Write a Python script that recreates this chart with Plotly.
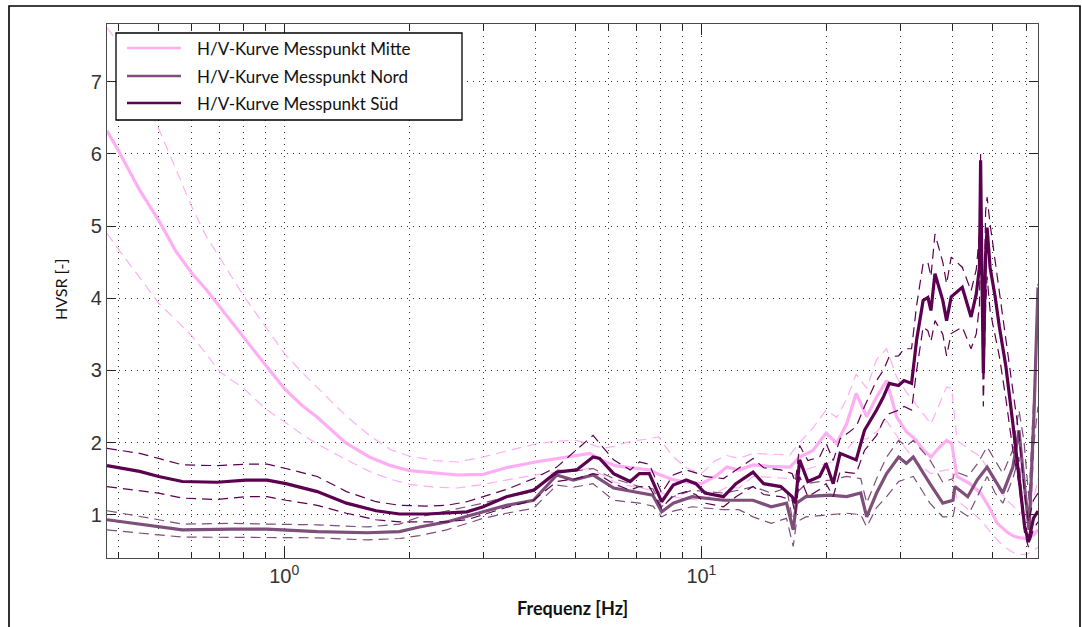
import numpy as np
import plotly.graph_objects as go

# ---- H/V spectral ratio curves (mean and +/- one standard deviation) ----

freq_mitte = [0.376, 0.4, 0.45, 0.5, 0.55, 0.6, 0.65, 0.7, 0.8, 0.9,
              1.0, 1.1, 1.2, 1.4, 1.6, 1.8, 2.0, 2.3, 2.6, 3.0,
              3.4, 4.0, 4.5, 5.0, 5.4, 5.8, 6.2, 6.6, 7.0, 7.5,
              7.9, 8.5, 9.2, 10.0, 10.8, 11.5, 12.3, 13.3, 14.5, 16.3,
              17.2, 18.5, 19.9, 21.1, 22.3, 23.5, 24.9, 26.3, 27.8, 29.4,
              31.0, 32.5, 34.0, 35.5, 37.0, 38.7, 39.8, 41.0, 44.0, 46.7,
              49.0, 51.2, 54.0, 56.1, 58.0, 60.2, 62.5, 64.1]
hv_mitte = [6.32, 6.05, 5.50, 5.08, 4.65, 4.35, 4.12, 3.88, 3.45, 3.08,
            2.75, 2.52, 2.35, 2.00, 1.80, 1.68, 1.61, 1.58, 1.55, 1.56,
            1.65, 1.73, 1.78, 1.82, 1.85, 1.75, 1.68, 1.66, 1.64, 1.62,
            1.56, 1.49, 1.45, 1.43, 1.53, 1.66, 1.62, 1.69, 1.67, 1.66,
            1.80, 1.89, 2.13, 1.99, 2.26, 2.68, 2.36, 2.63, 2.86, 2.35,
            2.15, 2.05, 1.90, 1.80, 1.92, 2.03, 1.99, 1.53, 1.43, 1.30,
            1.10, 0.88, 0.76, 0.70, 0.68, 0.67, 0.72, 0.79]
hv_mitte_hi = [7.75, 7.54, 6.90, 6.35, 5.79, 5.27, 4.86, 4.57, 4.03, 3.61,
               3.24, 2.98, 2.76, 2.38, 2.10, 1.90, 1.81, 1.75, 1.73, 1.80,
               1.88, 1.98, 2.02, 2.03, 1.98, 1.92, 1.95, 2.00, 2.03, 2.05,
               2.08, 1.82, 1.65, 1.57, 1.75, 1.82, 1.78, 1.85, 1.84, 1.83,
               2.00, 2.20, 2.45, 2.35, 2.60, 2.95, 2.75, 3.15, 3.30, 2.90,
               2.70, 2.55, 2.40, 2.26, 2.50, 2.77, 2.75, 2.03, 1.90, 1.80,
               1.60, 1.39, 1.20, 1.11, 1.03, 0.97, 1.20, 1.50]
hv_mitte_lo = [4.90, 4.68, 4.29, 3.93, 3.70, 3.48, 3.23, 2.98, 2.75, 2.47,
               2.29, 2.12, 1.98, 1.77, 1.60, 1.49, 1.42, 1.38, 1.37, 1.42,
               1.48, 1.55, 1.59, 1.62, 1.64, 1.55, 1.45, 1.41, 1.38, 1.35,
               1.32, 1.25, 1.22, 1.20, 1.30, 1.38, 1.37, 1.53, 1.52, 1.50,
               1.60, 1.66, 1.71, 1.75, 1.90, 2.05, 2.05, 2.15, 2.30, 2.10,
               1.90, 1.76, 1.65, 1.57, 1.60, 1.62, 1.62, 1.20, 1.05, 0.93,
               0.78, 0.65, 0.53, 0.47, 0.45, 0.45, 0.50, 0.55]

freq_nord = [0.376, 0.45, 0.5, 0.57, 0.75, 0.91, 1.2, 1.58, 1.89, 2.11,
             2.45, 3.0, 3.41, 3.96, 4.5, 4.93, 5.5, 6.16, 7.1, 7.65,
             8.03, 8.56, 9.5, 11.3, 12.3, 13.3, 14.7, 16.0, 16.6, 16.9,
             17.8, 20.3, 22.3, 24.1, 24.9, 26.3, 27.8, 29.7, 31.0, 32.2,
             35.3, 37.9, 40.1, 40.5, 43.5, 45.8, 48.4, 50.6, 52.8, 55.8,
             57.7, 59.3, 61.0, 62.7, 64.1]
hv_nord = [0.93, 0.87, 0.83, 0.79, 0.80, 0.80, 0.765, 0.75, 0.765, 0.83,
           0.90, 1.04, 1.13, 1.20, 1.55, 1.48, 1.55, 1.37, 1.30, 1.27,
           1.04, 1.16, 1.25, 1.20, 1.20, 1.20, 1.11, 1.16, 0.79, 1.16,
           1.25, 1.27, 1.25, 1.30, 0.97, 1.30, 1.57, 1.80, 1.71, 1.80,
           1.43, 1.16, 1.20, 1.39, 1.25, 1.48, 1.66, 1.48, 1.30, 1.66,
           2.17, 1.48, 0.79, 2.40, 4.15]
hv_nord_hi = [1.055, 0.97, 0.93, 0.87, 0.88, 0.87, 0.86, 0.83, 0.87, 0.97,
              1.05, 1.16, 1.25, 1.32, 1.62, 1.60, 1.64, 1.50, 1.39, 1.36,
              1.11, 1.25, 1.34, 1.30, 1.34, 1.39, 1.30, 1.37, 0.88, 1.30,
              1.43, 1.48, 1.53, 1.50, 1.16, 1.50, 1.80, 2.03, 1.95, 2.03,
              1.76, 1.45, 1.50, 1.60, 1.53, 1.70, 1.94, 1.75, 1.57, 1.90,
              2.45, 2.03, 1.20, 2.70, 4.20]
hv_nord_lo = [0.79, 0.74, 0.72, 0.69, 0.69, 0.69, 0.68, 0.65, 0.67, 0.71,
              0.79, 0.95, 1.02, 1.09, 1.41, 1.38, 1.43, 1.20, 1.16, 1.12,
              0.97, 1.05, 1.11, 1.07, 1.07, 0.97, 0.88, 0.95, 0.56, 0.90,
              0.97, 1.00, 1.02, 1.00, 0.83, 1.10, 1.25, 1.46, 1.50, 1.53,
              1.16, 0.97, 0.97, 1.10, 0.98, 1.25, 1.53, 1.30, 1.16, 1.50,
              1.80, 0.90, 0.60, 2.00, 2.50]

freq_sued = [0.376, 0.45, 0.5, 0.57, 0.69, 0.81, 0.91, 1.01, 1.2, 1.41,
             1.66, 1.89, 2.2, 2.45, 2.74, 3.0, 3.41, 3.96, 4.5, 5.02,
             5.5, 5.7, 6.16, 6.75, 7.1, 7.5, 8.03, 8.56, 9.2, 9.7,
             10.2, 11.3, 12.1, 13.3, 14.1, 15.5, 16.5, 16.8, 17.2, 18.0,
             19.2, 19.9, 20.7, 21.5, 23.5, 24.6, 26.3, 27.3, 28.2, 29.7,
             30.6, 31.9, 32.8, 34.0, 34.9, 35.5, 36.3, 37.9, 38.7, 39.7,
             42.2, 44.3, 45.6, 46.4, 46.7, 47.0, 47.4, 48.0, 48.4, 49.2,
             50.6, 51.8, 53.7, 55.8, 57.7, 59.5, 60.8, 62.5, 64.1]
hv_sued = [1.68, 1.60, 1.53, 1.46, 1.45, 1.48, 1.48, 1.43, 1.32, 1.16,
           1.055, 1.01, 1.01, 1.02, 1.04, 1.11, 1.25, 1.34, 1.59, 1.62,
           1.80, 1.78, 1.57, 1.46, 1.57, 1.57, 1.18, 1.41, 1.48, 1.43,
           1.30, 1.25, 1.43, 1.59, 1.43, 1.39, 1.25, 1.16, 1.76, 1.46,
           1.53, 1.71, 1.43, 1.85, 1.76, 2.17, 2.45, 2.63, 2.82, 2.79,
           2.86, 2.82, 3.42, 3.97, 4.01, 3.83, 4.34, 3.97, 3.69, 4.02,
           4.15, 3.74, 4.06, 4.43, 5.91, 4.50, 2.96, 4.60, 4.98, 4.43,
           4.02, 3.60, 3.05, 2.26, 1.57, 0.85, 0.62, 0.95, 1.05]
hv_sued_hi = [1.92, 1.85, 1.78, 1.69, 1.68, 1.70, 1.70, 1.64, 1.53, 1.32,
              1.18, 1.13, 1.12, 1.13, 1.18, 1.25, 1.35, 1.50, 1.66, 1.90,
              2.10, 1.99, 1.76, 1.62, 1.73, 1.70, 1.30, 1.55, 1.62, 1.58,
              1.53, 1.50, 1.62, 1.78, 1.65, 1.62, 1.57, 1.45, 1.96, 1.75,
              1.80, 1.99, 1.75, 2.05, 2.22, 2.50, 2.86, 3.00, 3.19, 3.20,
              3.30, 3.30, 3.90, 4.48, 4.50, 4.30, 4.89, 4.50, 4.20, 4.57,
              4.43, 4.10, 4.40, 4.90, 6.00, 5.00, 3.30, 5.20, 5.40, 5.03,
              4.50, 4.06, 3.40, 2.72, 2.12, 1.30, 0.90, 1.20, 1.30]
hv_sued_lo = [1.39, 1.33, 1.30, 1.23, 1.21, 1.25, 1.25, 1.20, 1.13, 1.02,
              0.93, 0.90, 0.90, 0.90, 0.93, 1.00, 1.10, 1.20, 1.46, 1.50,
              1.57, 1.55, 1.43, 1.34, 1.39, 1.39, 1.09, 1.27, 1.32, 1.28,
              1.16, 1.11, 1.25, 1.39, 1.28, 1.25, 1.20, 1.00, 1.53, 1.25,
              1.35, 1.43, 1.25, 1.60, 1.57, 1.89, 2.10, 2.30, 2.40, 2.45,
              2.50, 2.45, 3.00, 3.60, 3.55, 3.40, 3.69, 3.50, 3.20, 3.51,
              3.60, 3.30, 3.51, 3.90, 5.00, 4.00, 2.50, 3.90, 4.30, 3.83,
              3.50, 3.19, 2.60, 1.89, 1.43, 0.75, 0.55, 0.80, 0.90]

station_names = ["H/V-Kurve Messpunkt Mitte",
                 "H/V-Kurve Messpunkt Nord",
                 "H/V-Kurve Messpunkt Süd"]
station_colors = ["#ffaef4", "#7d4f7a", "#5c0050"]

x_ticks_minor = [0.4, 0.5, 0.6, 0.7, 0.8, 0.9, 2, 3, 4, 5, 6, 7, 8, 9,
                 20, 30, 40, 50, 60]
x_ticks_major = [1, 10]
x_tick_text = ["10<sup>0</sup>", "10<sup>1</sup>"]
y_ticks = [1, 2, 3, 4, 5, 6, 7]

stations = [
    (freq_mitte, hv_mitte, hv_mitte_hi, hv_mitte_lo),
    (freq_nord, hv_nord, hv_nord_hi, hv_nord_lo),
    (freq_sued, hv_sued, hv_sued_hi, hv_sued_lo),
]

fig = go.Figure()
for (f, m, hi, lo), name, col in zip(stations, station_names, station_colors):
    assert len(f) == len(m) == len(hi) == len(lo)
    for band in (hi, lo):
        fig.add_trace(go.Scatter(x=f, y=band, mode="lines", showlegend=False,
                                 hoverinfo="skip",
                                 line=dict(color=col, width=1.2, dash="10px,6px")))
    fig.add_trace(go.Scatter(x=f, y=m, mode="lines", name=name, showlegend=False,
                             line=dict(color=col, width=3.2)))

# plot area in pixels (for paper coordinate conversion of decorations)
W, H = 1082, 627
L, R, T, B = 107, 1038, 24, 558


def px(xp):
    return (xp - L) / (R - L)


def py(yp):
    return (B - yp) / (B - T)


shapes = []
annotations = []

# outer frame
shapes.append(dict(type="rect", xref="paper", yref="paper",
                   x0=px(9), x1=px(1080), y0=py(6), y1=py(640),
                   line=dict(color="black", width=1.6), fillcolor="rgba(0,0,0,0)",
                   layer="below"))

# legend box
shapes.append(dict(type="rect", xref="paper", yref="paper",
                   x0=px(116), x1=px(462), y0=py(33), y1=py(120),
                   line=dict(color="black", width=1.3), fillcolor="white",
                   layer="above"))
legend_rows = [48, 76, 103]
for name, col, yr in zip(station_names, station_colors, legend_rows):
    shapes.append(dict(type="line", xref="paper", yref="paper",
                       x0=px(127), x1=px(181), y0=py(yr), y1=py(yr),
                       line=dict(color=col, width=2.6), layer="above"))
    annotations.append(dict(text=name, xref="paper", yref="paper",
                            x=px(195), y=py(yr), xanchor="left", yanchor="middle",
                            showarrow=False,
                            font=dict(family="Lato, Noto Sans, sans-serif",
                                      size=17, color="#111111")))

# axis titles
annotations.append(dict(text="<b>Frequenz [Hz]</b>", xref="paper", yref="paper",
                        x=px(572), y=py(608), xanchor="center", yanchor="middle",
                        showarrow=False,
                        font=dict(family="Lato, Noto Sans, sans-serif", size=18,
                                  color="#111111")))
annotations.append(dict(text="HVSR [-]", xref="paper", yref="paper",
                        x=px(60), y=py(290), xanchor="center", yanchor="middle",
                        textangle=-90, showarrow=False,
                        font=dict(family="Lato, Noto Sans, sans-serif", size=16,
                                  color="#111111")))

axis_common = dict(showline=True, linecolor="#4a4a4a", linewidth=1.2,
                   mirror="ticks", ticks="inside", tickcolor="#222222",
                   zeroline=False, showgrid=True, gridcolor="#333333",
                   gridwidth=1.2, griddash="1px,5px",
                   tickfont=dict(family="Liberation Sans, Arial, sans-serif",
                                 size=20, color="#333333"))

fig.update_layout(
    width=W, height=H,
    margin=dict(l=L, r=W - R, t=T, b=H - B),
    paper_bgcolor="white", plot_bgcolor="white",
    showlegend=False,
    shapes=shapes, annotations=annotations,
    xaxis=dict(type="log", range=[np.log10(0.376), np.log10(64.1)],
               tickmode="array", tickvals=x_ticks_major, ticktext=x_tick_text,
               ticklen=11, tickwidth=1,
               minor=dict(tickmode="array", tickvals=x_ticks_minor,
                          ticks="inside", ticklen=6, tickcolor="#222222",
                          showgrid=True, gridcolor="#333333", gridwidth=1.2,
                          griddash="1px,5px"),
               **axis_common),
    yaxis=dict(range=[0.4, 7.8], tickmode="array", tickvals=y_ticks,
               ticklen=9, tickwidth=1, **axis_common),
)

fig.write_html("out.html")
